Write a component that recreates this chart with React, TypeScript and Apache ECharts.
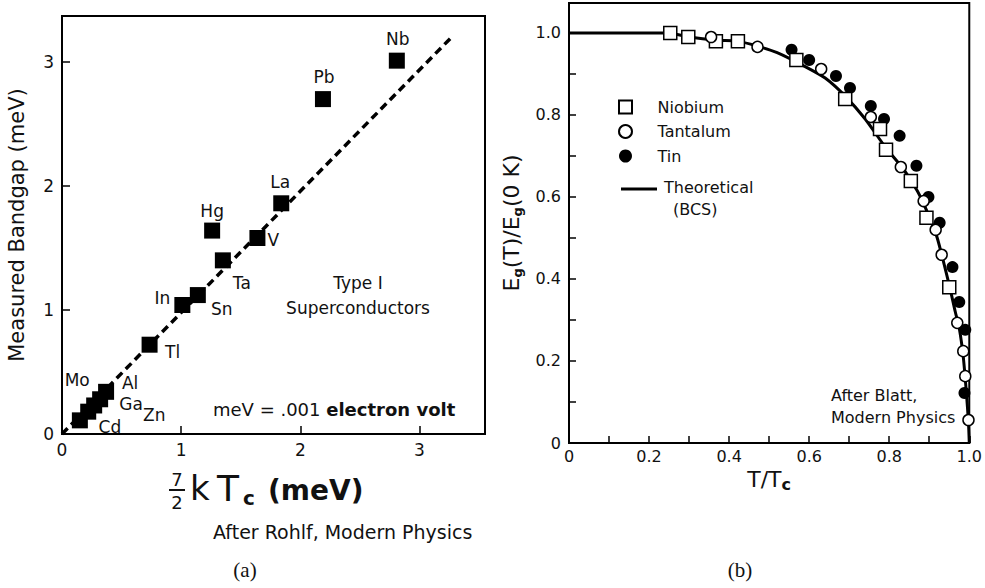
import React, { useEffect, useRef } from 'react';
import * as echarts from 'echarts';

const FONT = 'DejaVu Sans';
const INK = '#111';

// ---- (a) Type I superconductors: measured gap vs 7/2 kTc ----
const elements = ['Cd', 'Zn', 'Mo', 'Ga', 'Al', 'Tl', 'In', 'Sn', 'Ta', 'Hg', 'V', 'La', 'Pb', 'Nb'];
const predictedGap = [0.15, 0.22, 0.27, 0.32, 0.37, 0.735, 1.01, 1.14, 1.35, 1.26, 1.64, 1.84, 2.19, 2.81];
const measuredGap = [0.11, 0.18, 0.23, 0.28, 0.34, 0.72, 1.04, 1.12, 1.40, 1.64, 1.58, 1.86, 2.70, 3.01];
const fitLineX = [0, 3.27];
const fitLineY = [0, 3.2];
const leftXTicks = [0, 1, 2, 3];
const leftYTicks = [0, 1, 2, 3];

// label placement (pixels from the marker centre), kept apart from the data
const labelOffsets: [number, number][] = [
  [30, 7], [66, 3], [-17, -25], [31, 5], [24, -9], [23, 7], [-20, -7], [24, 14],
  [19, 23], [0, -20], [16, 2], [-1, -21], [1, -22], [1, -22],
];

// ---- (b) Eg(T)/Eg(0K) vs T/Tc ----
const niobiumT = [0.253, 0.298, 0.367, 0.422, 0.568, 0.690, 0.777, 0.792, 0.854, 0.893, 0.950];
const niobiumE = [1.0, 0.99, 0.98, 0.98, 0.934, 0.839, 0.766, 0.715, 0.639, 0.549, 0.380];
const tantalumT = [0.355, 0.471, 0.630, 0.754, 0.829, 0.886, 0.916, 0.931, 0.970, 0.985, 0.990, 0.998];
const tantalumE = [0.99, 0.966, 0.912, 0.795, 0.673, 0.590, 0.520, 0.459, 0.293, 0.224, 0.163, 0.056];
const tinT = [0.556, 0.600, 0.667, 0.702, 0.754, 0.787, 0.826, 0.868, 0.898, 0.926, 0.958, 0.975, 0.990, 0.988];
const tinE = [0.959, 0.934, 0.895, 0.866, 0.822, 0.790, 0.749, 0.676, 0.600, 0.537, 0.429, 0.344, 0.276, 0.122];
const bcsT = [0, 0.25, 0.3, 0.37, 0.42, 0.47, 0.52, 0.59, 0.64, 0.69, 0.74, 0.79, 0.834, 0.87, 0.896, 0.92, 0.95, 0.965, 0.975, 0.985, 0.993, 0.998, 1.0];
const bcsE = [1.0, 1.0, 0.99, 0.982, 0.98, 0.968, 0.952, 0.918, 0.89, 0.846, 0.79, 0.722, 0.67, 0.615, 0.561, 0.5, 0.385, 0.32, 0.28, 0.21, 0.12, 0.05, 0];
const legendNames = ['Niobium', 'Tantalum', 'Tin'];

const zip = (a: number[], b: number[]) => a.map((v, i) => [v, b[i]]);

const axisLine = { show: true, onZero: false, lineStyle: { color: '#000', width: 2 } };
const tick = { show: true, inside: true, length: 8, lineStyle: { color: '#000', width: 1.5 } };

const leftFmt = (ticks: number[]) => (v: number) => (ticks.includes(v) ? String(v) : '');
const rightFmt = (v: number) => {
  const k = Math.round(v * 10);
  if (Math.abs(v * 10 - k) > 1e-6 || k % 2 !== 0) return '';
  return k === 0 ? '0' : (k / 10).toFixed(1);
};

const txt = (x: number, y: number, text: string, font: string, align = 'left', extra: any = {}) => ({
  type: 'text',
  x,
  y,
  style: {
    text,
    font,
    fill: INK,
    align,
    verticalAlign: 'middle',
    textAlign: align,
    textVerticalAlign: 'middle',
    ...extra,
  },
});

export default function App() {
  const ref = useRef<HTMLDivElement>(null);
  useEffect(() => {
    const chart = echarts.init(ref.current!, null, { renderer: 'svg' });
    const option: any = {
      animation: false,
      backgroundColor: '#fff',
      textStyle: { fontFamily: FONT, color: INK },
      grid: [
        { left: 62, top: 16, width: 423, height: 418, show: true, borderColor: '#000', borderWidth: 2, backgroundColor: 'transparent' },
        { left: 569, top: 3, width: 403, height: 440, show: true, borderColor: '#000', borderWidth: 2, backgroundColor: 'transparent' },
      ],
      xAxis: [
        {
          gridIndex: 0, type: 'value', min: 0, max: 3.55, interval: 1,
          axisLine, axisTick: tick, splitLine: { show: false },
          axisLabel: { margin: 7, fontSize: 17, fontFamily: FONT, color: INK, formatter: leftFmt(leftXTicks) },
        },
        {
          gridIndex: 1, type: 'value', min: 0, max: 1, interval: 0.1,
          axisLine, axisTick: { ...tick, length: 7 }, splitLine: { show: false },
          axisLabel: { margin: 5, fontSize: 16, fontFamily: FONT, color: INK, formatter: rightFmt },
          name: '{m|T/T}{s|c}', nameLocation: 'middle', nameGap: 23,
          nameTextStyle: {
            rich: {
              m: { fontSize: 22, fontFamily: FONT, color: INK, lineHeight: 26 },
              s: { fontSize: 16, fontWeight: 'bold', fontFamily: FONT, color: INK, lineHeight: 14, verticalAlign: 'bottom' },
            },
          },
        },
      ],
      yAxis: [
        {
          gridIndex: 0, type: 'value', min: 0, max: 3.37, interval: 1,
          axisLine, axisTick: tick, splitLine: { show: false },
          axisLabel: { margin: 8, fontSize: 17, fontFamily: FONT, color: INK, formatter: leftFmt(leftYTicks) },
          name: 'Measured Bandgap (meV)', nameLocation: 'middle', nameGap: 35, nameRotate: 90,
          nameTextStyle: { fontSize: 21, fontFamily: FONT, color: INK },
        },
        {
          gridIndex: 1, type: 'value', min: 0, max: 1.073, interval: 0.1,
          axisLine, axisTick: { ...tick, length: 7 }, splitLine: { show: false },
          axisLabel: { margin: 8, fontSize: 16, fontFamily: FONT, color: INK, formatter: rightFmt },
          name: '{m|E}{s|g}{m|(T)/E}{s|g}{m|(0 K)}', nameLocation: 'middle', nameGap: 45, nameRotate: 90,
          nameTextStyle: {
            rich: {
              m: { fontSize: 22, fontFamily: FONT, color: INK, lineHeight: 26 },
              s: { fontSize: 13, fontWeight: 'bold', fontFamily: FONT, color: INK, lineHeight: 13, verticalAlign: 'bottom' },
            },
          },
        },
      ],
      legend: {
        left: 613, top: 94, orient: 'vertical', itemWidth: 54, itemHeight: 13, itemGap: 8.5,
        selectedMode: false, symbolKeepAspect: true,
        data: [
          { name: legendNames[0], icon: 'path://M0 0H10V10H0Z' },
          { name: legendNames[1], icon: 'circle' },
          { name: legendNames[2], icon: 'circle' },
        ],
        textStyle: { fontSize: 16, fontFamily: FONT, color: INK },
      },
      series: [
        {
          type: 'line', xAxisIndex: 0, yAxisIndex: 0, data: zip(fitLineX, fitLineY), symbol: 'none',
          lineStyle: { color: '#000', width: 3.5, type: [8, 5], opacity: 1 }, z: 1, silent: true,
        },
        {
          type: 'scatter', xAxisIndex: 0, yAxisIndex: 0, symbol: 'rect', symbolSize: 16,
          itemStyle: { color: '#000', opacity: 1 }, z: 3,
          label: { show: true, position: 'inside', formatter: '{b}', fontSize: 17, fontFamily: FONT, color: INK, opacity: 1, align: 'center', verticalAlign: 'middle' },
          data: elements.map((n, i) => ({ name: n, value: [predictedGap[i], measuredGap[i]], label: { offset: labelOffsets[i] } })),
        },
        {
          name: 'Theoretical (BCS)', type: 'line', xAxisIndex: 1, yAxisIndex: 1, data: zip(bcsT, bcsE),
          symbol: 'none', smooth: 0.2, lineStyle: { color: '#000', width: 3, opacity: 1 }, z: 1,
        },
        {
          name: legendNames[0], type: 'scatter', xAxisIndex: 1, yAxisIndex: 1, symbol: 'rect', symbolSize: 13,
          itemStyle: { color: '#fff', borderColor: '#000', borderWidth: 1.5, opacity: 1 }, data: zip(niobiumT, niobiumE), z: 3,
        },
        {
          name: legendNames[1], type: 'scatter', xAxisIndex: 1, yAxisIndex: 1, symbol: 'circle', symbolSize: 11,
          itemStyle: { color: '#fff', borderColor: '#000', borderWidth: 1.5, opacity: 1 }, data: zip(tantalumT, tantalumE), z: 3,
        },
        {
          name: legendNames[2], type: 'scatter', xAxisIndex: 1, yAxisIndex: 1, symbol: 'circle', symbolSize: 12,
          itemStyle: { color: '#000', opacity: 1 }, data: zip(tinT, tinE), z: 2,
        },
      ],
      graphic: [
        // 7/2 kTc (meV)
        txt(177, 479, '7', '18px DejaVu Sans', 'center'),
        { type: 'line', shape: { x1: 169, y1: 490, x2: 185, y2: 490 }, style: { stroke: INK, lineWidth: 2 } },
        txt(177, 502, '2', '18px DejaVu Sans', 'center'),
        txt(190, 488, 'k', '34px DejaVu Sans'),
        txt(217, 488, 'T', '36px DejaVu Sans'),
        txt(243, 498, 'c', 'bold 20px DejaVu Sans'),
        txt(268, 490, '(meV)', 'bold 28px DejaVu Sans'),
        txt(213, 532, 'After Rohlf, Modern Physics', '19px DejaVu Sans'),
        txt(358, 283, 'Type I', '17px DejaVu Sans', 'center'),
        txt(358, 308, 'Superconductors', '17px DejaVu Sans', 'center'),
        txt(213, 409, '{n|meV = .001 }{b|electron volt}', '18px DejaVu Sans', 'left', {
          rich: {
            n: { fontSize: 18, fontFamily: FONT, fill: INK },
            b: { fontSize: 18, fontFamily: FONT, fontWeight: 'bold', fill: INK },
          },
        }),
        // theoretical legend entry
        { type: 'line', shape: { x1: 621, y1: 189, x2: 657, y2: 189 }, style: { stroke: '#000', lineWidth: 3 } },
        txt(664, 187, 'Theoretical', '16px DejaVu Sans'),
        txt(673, 209, '(BCS)', '16px DejaVu Sans'),
        txt(831, 395, 'After Blatt,', '16px DejaVu Sans'),
        txt(831, 417, 'Modern Physics', '16px DejaVu Sans'),
        txt(245, 570, '(a)', '21px Liberation Serif', 'center'),
        txt(740, 570, '(b)', '21px Liberation Serif', 'center'),
      ],
    };
    chart.setOption(option);
    return () => chart.dispose();
  }, []);
  return <div ref={ref} style={{ position: 'fixed', left: 0, top: 0, width: 985, height: 588, background: '#fff' }} />;
}
